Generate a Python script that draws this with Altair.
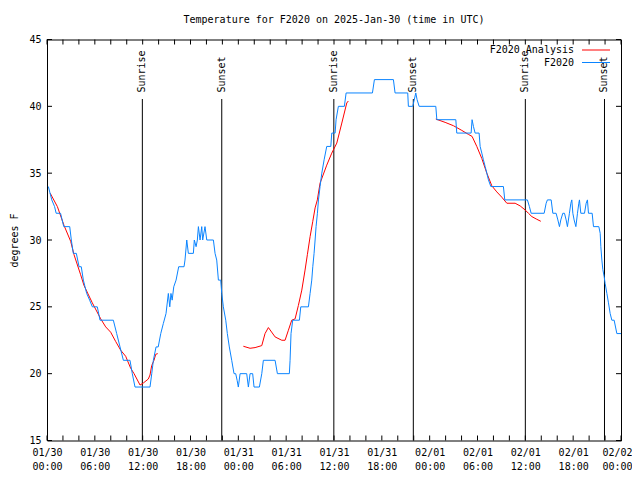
import altair as alt
import pandas as pd

TITLE = "Temperature for F2020 on 2025-Jan-30 (time in UTC)"
FONT = "DejaVu Sans Mono"
SERIES = ["F2020 Analysis", "F2020"]
COLORS = ["#ff0000", "#0a84ff"]

# Observed temperature (hours since 2025-01-30 00:00 UTC, degrees F)
obs_hours = [0.17, 0.6, 0.95, 1.15, 1.7, 2.1, 2.85, 3.05, 3.3, 3.68, 4.02, 4.3, 4.56, 4.98, 5.35,
             5.69, 6.31, 6.65, 8.32, 8.74, 9.16, 9.58, 10.41, 10.7, 11.04, 12.92, 13.14, 13.34,
             13.68, 13.95, 14.27, 14.59, 14.93, 15.22, 15.4, 15.55, 15.7, 15.9, 16.19, 16.52,
             17.19, 17.31, 17.53, 17.73, 18.36, 18.48, 18.7, 18.86, 18.99, 19.2, 19.41, 19.53,
             19.82, 20.04, 20.87, 21.08, 21.29, 21.5, 21.79, 21.92, 22.12, 22.42, 22.62, 22.87,
             23.17, 23.46, 23.67, 23.85, 24.0, 24.22, 25.05, 25.26, 25.47, 25.8, 25.97, 26.64,
             26.94, 27.14, 28.61, 28.9, 30.4, 30.49, 30.61, 30.82, 31.66, 31.83, 32.79, 33.0,
             33.21, 33.34, 33.5, 33.63, 33.75, 33.92, 34.05, 34.25, 34.47, 34.76, 35.09, 35.6,
             35.72, 36.14, 36.26, 36.55, 37.3, 37.52, 40.82, 41.07, 43.45, 43.66, 45.25, 45.33,
             45.88, 46.26, 46.42, 46.68, 48.77, 48.9, 51.28, 51.4, 53.2, 53.32, 53.49, 53.7,
             54.2, 54.33, 54.54, 54.74, 54.96, 55.17, 55.37, 55.67, 57.25, 57.42, 60.26, 60.51,
             60.73, 62.36, 62.61, 62.77, 63.24, 63.45, 63.86, 64.08, 64.28, 64.45, 64.7, 64.91,
             65.12, 65.28, 65.53, 65.71, 65.83, 65.96, 66.12, 66.34, 66.54, 66.71, 66.79, 66.96,
             67.42, 67.63, 67.79, 67.92, 68.38, 68.55, 69.22, 69.39, 69.47, 69.6, 69.72, 69.89,
             70.01, 70.23, 70.43, 70.64, 70.85, 71.14, 71.48, 72.0]
obs_temps = [34, 33, 32.5, 32, 32, 31, 31, 30, 29, 29, 28, 28, 27, 26, 25.5,
             25, 25, 24, 24, 23, 22, 21, 21, 20, 19, 19, 20, 21,
             22, 22, 23, 23.75, 24.5, 26, 25, 26, 25.5, 26.5, 27, 28,
             28, 28.5, 30, 29, 29, 30, 29.5, 30, 31, 30, 31, 30,
             31, 30, 30, 29, 28.5, 27, 27, 26, 25, 24, 23, 22,
             21, 20, 20, 19.5, 19, 20, 20, 19, 20, 20, 19, 19,
             20, 21, 21, 20, 20, 21, 23, 24, 24, 25, 25, 26,
             27, 28, 29, 30, 31, 32, 33, 34, 35, 36, 37, 37,
             38, 38, 39, 40, 40, 41, 41, 42, 42, 41, 41, 40,
             40, 41, 40.5, 40, 40, 39, 39, 38, 38, 39, 38.5, 38,
             38, 37, 36.5, 36, 35.5, 35, 34.5, 34, 34, 33, 33, 32.5,
             32, 32, 32.75, 33, 33, 32, 32, 31.5, 31, 31.5, 32, 32,
             31.5, 31, 32, 32.75, 33, 32, 31.5, 31, 32, 32.75, 33, 32,
             32, 32.75, 33, 32, 32, 31, 31, 30.5, 29.5, 28.5, 27.8, 27.25,
             26.75, 26, 25.3, 24.5, 24, 24, 23, 23]

# Analysis curve, three separate pieces
ana1_hours = [0.4, 1.3, 2.13, 2.97, 3.39, 4.22, 4.64, 5.68, 6.74, 7.36, 7.99, 8.62, 9.25, 9.87,
              10.5, 10.92, 11.67, 12.08, 12.71, 12.92, 13.13, 13.42, 13.64, 13.89]
ana1_temps = [33.5, 32.5, 31.1, 29.9, 28.9, 27.4, 26.6, 25.3, 24.1, 23.5, 23.1, 22.4, 21.75, 21.3,
              20.4, 20.0, 19.15, 19.3, 19.6, 19.9, 20.6, 21.0, 21.45, 21.5]
ana2_hours = [24.63, 25.47, 26.1, 26.94, 27.35, 27.77, 28.61, 29.45, 29.86, 30.28, 30.7, 31.12,
              31.53, 31.96, 32.37, 32.66, 33.0, 33.34, 33.63, 33.91, 34.25, 35.09, 35.72, 36.35,
              36.98, 37.6, 37.8]
ana2_temps = [22.05, 21.9, 21.95, 22.1, 23.0, 23.45, 22.75, 22.5, 22.5, 23.25, 24.0, 24.1,
              25.1, 26.25, 27.75, 28.9, 30.25, 31.4, 32.4, 33.0, 34.25, 35.6, 36.5, 37.25,
              38.75, 40.25, 40.4]
ana3_hours = [48.77, 49.94, 50.98, 52.03, 52.86, 53.32, 53.91, 54.54, 55.17, 55.8, 56.42, 57.05,
              57.68, 58.72, 59.35, 59.97, 60.39, 60.82, 61.44, 61.94]
ana3_temps = [39.05, 38.8, 38.55, 38.2, 37.9, 37.75, 37.0, 36.1, 35.0, 34.05, 33.6, 33.2,
              32.75, 32.75, 32.55, 32.25, 32.0, 31.75, 31.55, 31.4]

sun_hours = [11.96, 21.92, 35.98, 45.95, 60.0, 69.93]
sun_labels = ["Sunrise", "Sunset", "Sunrise", "Sunset", "Sunrise", "Sunset"]

x_ticks = list(range(0, 73, 6))
x_small_ticks = list(range(0, 73, 2))
x_day_labels = ["01/30"] * 4 + ["01/31"] * 4 + ["02/01"] * 4 + ["02/02"]
x_time_labels = ["00:00", "06:00", "12:00", "18:00"] * 3 + ["00:00"]
y_ticks = [15, 20, 25, 30, 35, 40, 45]

W, H = 574, 401

obs = pd.DataFrame({"h": obs_hours, "t": obs_temps})
ana = pd.concat([
    pd.DataFrame({"h": ana1_hours, "t": ana1_temps, "seg": 1}),
    pd.DataFrame({"h": ana2_hours, "t": ana2_temps, "seg": 2}),
    pd.DataFrame({"h": ana3_hours, "t": ana3_temps, "seg": 3}),
])
sun = pd.DataFrame({"h": sun_hours, "label": sun_labels})
xt = pd.DataFrame({"h": x_small_ticks})
yt = pd.DataFrame({"t": y_ticks})

day_arr = "[" + ",".join("'%s'" % d for d in x_day_labels) + "]"
time_arr = "[" + ",".join("'%s'" % d for d in x_time_labels) + "]"
label_expr = "[%s[round(datum.value/6)], %s[round(datum.value/6)]]" % (day_arr, time_arr)

xscale = alt.Scale(domain=[0, 72], nice=False, zero=False)
yscale = alt.Scale(domain=[15, 45], nice=False, zero=False)

xaxis = alt.Axis(values=x_ticks, labelExpr=label_expr, tickSize=0, domain=False, grid=False,
                 labelFont=FONT, labelFontSize=10, labelColor="black", labelPadding=7,
                 labelLineHeight=14, title=None, labelFlush=False, labelOverlap=False,
                 labelOffset={"condition": {"test": "datum.value >= 72", "value": -4}, "value": 0})
yaxis = alt.Axis(values=y_ticks, tickSize=0, domain=False, grid=False, labelFont=FONT,
                 labelFontSize=10, labelColor="black", labelPadding=6, title="degrees F",
                 titleFont=FONT, titleFontSize=10, titleFontWeight="normal", titleColor="black",
                 titlePadding=9)

X = alt.X("h:Q", scale=xscale, axis=xaxis)
Y = alt.Y("t:Q", scale=yscale, axis=yaxis)

sun_rules = alt.Chart(sun).mark_rule(color="black", strokeWidth=1).encode(
    x=alt.X("h:Q", scale=xscale), y=alt.value(59.5), y2=alt.value(H))
sun_text = alt.Chart(sun).mark_text(angle=270, align="left", baseline="middle", font=FONT,
                                    fontSize=10, color="black").encode(
    x=alt.X("h:Q", scale=xscale), y=alt.value(53), text="label:N")

ana_line = alt.Chart(ana).mark_line(color=COLORS[0], strokeWidth=1).encode(
    x=X, y=Y, detail="seg:N", order="h:Q")
obs_line = alt.Chart(obs).mark_line(color=COLORS[1], strokeWidth=1).encode(
    x=X, y=Y, order="h:Q")

tick_len = 5
xt_bottom = alt.Chart(xt).mark_rule(color="black").encode(
    x=alt.X("h:Q", scale=xscale), y=alt.value(H), y2=alt.value(H - tick_len))
xt_top = alt.Chart(xt).mark_rule(color="black").encode(
    x=alt.X("h:Q", scale=xscale), y=alt.value(0), y2=alt.value(tick_len))
yt_left = alt.Chart(yt).mark_rule(color="black").encode(
    y=alt.Y("t:Q", scale=yscale), x=alt.value(0), x2=alt.value(tick_len))
yt_right = alt.Chart(yt).mark_rule(color="black").encode(
    y=alt.Y("t:Q", scale=yscale), x=alt.value(W), x2=alt.value(W - tick_len))

legend_layers = []
leg_rows = [10.5, 23]
for name, color, row_y in zip(SERIES, COLORS, leg_rows):
    d = pd.DataFrame({"name": [name]})
    legend_layers.append(
        alt.Chart(d).mark_text(align="right", baseline="middle", font=FONT, fontSize=10,
                               color="black").encode(
            x=alt.value(527), y=alt.value(row_y), text="name:N"))
    legend_layers.append(
        alt.Chart(d).mark_rule(color=color, strokeWidth=1).encode(
            x=alt.value(535), x2=alt.value(563), y=alt.value(row_y)))

chart = alt.layer(
    sun_rules, sun_text, ana_line, obs_line, xt_bottom, xt_top, yt_left, yt_right,
    *legend_layers
).properties(
    width=W, height=H,
    title=alt.TitleParams(TITLE, font=FONT, fontSize=10, fontWeight="normal", color="black",
                          anchor="middle", offset=10),
    autosize=alt.AutoSizeParams(type="none"),
    padding={"left": 39, "top": 31.5, "right": 11, "bottom": 31},
    background="white",
).configure_view(stroke="black", strokeWidth=1)

chart.save("out.html", embed_options={"renderer": "svg", "actions": False})
